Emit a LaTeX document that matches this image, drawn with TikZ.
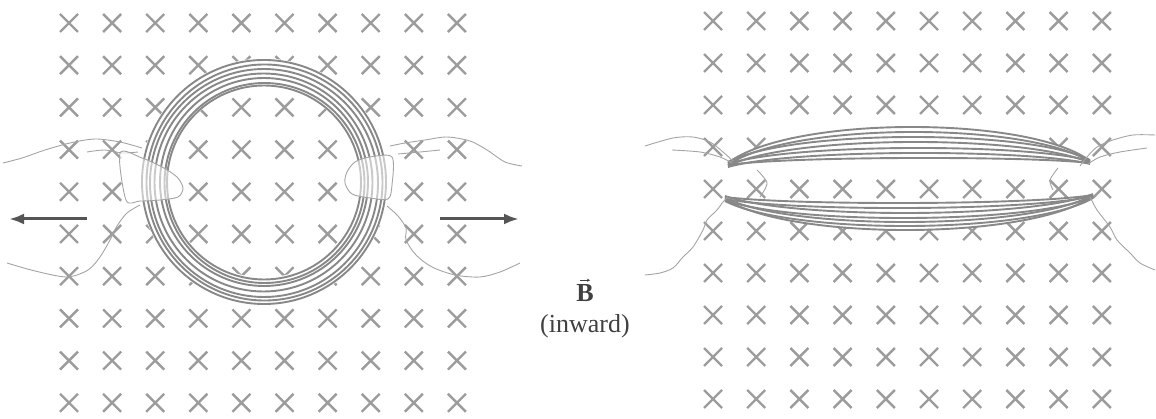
\documentclass[tikz,border=0pt]{standalone}
\usepackage{fontspec}
\setmainfont{Liberation Serif}
\usetikzlibrary{arrows.meta}
\definecolor{crossgray}{HTML}{9C9C9C}
\definecolor{wiregray}{HTML}{888888}
\definecolor{handgray}{HTML}{A4A4A4}
\definecolor{arrowgray}{HTML}{555555}
\definecolor{textgray}{HTML}{404040}
\begin{document}
\begin{tikzpicture}[x=1pt,y=-1pt,
  fieldx/.style={draw=crossgray, line width=2.4pt},
  wire/.style={draw=wiregray, line width=1.9pt},
  skin/.style={draw=handgray, line width=0.9pt},
  pull/.style={draw=arrowgray, line width=3pt, -{Latex[length=15pt,width=11pt]}},
  label/.style={text=textgray, inner sep=0pt}]
\useasboundingbox (0,0) rectangle (1156,419);

% magnetic field into the page: two grids of crosses
\foreach \i in {0,...,9} \foreach \j in {0,...,9} {
  \pgfmathsetmacro\cx{69+43.1*\i}
  \pgfmathsetmacro\cy{23+42.2*\j}
  \draw[fieldx] (\cx-9,\cy-9) -- (\cx+9,\cy+9) (\cx-9,\cy+9) -- (\cx+9,\cy-9);
}
\foreach \i in {0,...,9} \foreach \j in {0,...,9} {
  \pgfmathsetmacro\cx{713+43.2*\i}
  \pgfmathsetmacro\cy{21+42*\j}
  \draw[fieldx] (\cx-9,\cy-9) -- (\cx+9,\cy+9) (\cx-9,\cy+9) -- (\cx+9,\cy-9);
}

% circular coil
\fill[white, even odd rule] (264,182) circle (123.5pt) circle (95.5pt);
\foreach \r/\dx/\dy in {122/0/0, 118/0.5/0.5, 114/0/1, 109/-0.5/0.5, 104/0/0, 100/0.5/1, 97/0/0.5}
  \draw[wire] (264+\dx,182+\dy) circle (\r pt);

% hands on the circular coil (left)
\draw[skin] plot[smooth] coordinates {(3,163) (22,158) (45,150) (70,143) (95,139) (120,142) (142,148)};
\draw[skin] plot[smooth] coordinates {(87,152) (105,150) (122,153) (138,152)};
\filldraw[skin, fill=white, fill opacity=0.55] plot[smooth cycle] coordinates {(120,153) (142,158) (162,167) (177,177) (183,188) (178,197) (160,200) (140,201) (126,200)};
\draw[skin] plot[smooth] coordinates {(140,205) (127,213) (117,226) (110,240) (100,257) (88,270) (67,277) (35,271) (7,263)};
% hands on the circular coil (right)
\draw[skin] plot[smooth] coordinates {(522,166) (505,162) (487,150) (470,141) (447,137) (425,140) (405,143) (390,146)};
\draw[skin] plot[smooth] coordinates {(440,150) (420,152) (398,154)};
\filldraw[skin, fill=white, fill opacity=0.55] plot[smooth cycle] coordinates {(392,157) (370,157) (355,162) (347,172) (345,183) (352,194) (370,198) (388,199) (392,185)};
\draw[skin] plot[smooth] coordinates {(387,206) (398,216) (406,228) (406,240) (416,255) (432,267) (455,275) (480,277) (500,272) (520,263)};

% pulling arrows
\coordinate (lstart) at (87,219);
\coordinate (lend) at (9,219);
\coordinate (rstart) at (440,219);
\coordinate (rend) at (519,219);
\draw[pull] (lstart) -- (lend);
\draw[pull] (rstart) -- (rend);

% flattened coil: upper and lower bundles of windings
\fill[white] (728,164) .. controls (790,114) and (1030,114) .. (1090,162)
  .. controls (1030,158) and (790,158) .. cycle;
\fill[white] (725,197) .. controls (790,205) and (1030,205) .. (1093,195)
  .. controls (1030,242) and (790,242) .. cycle;
\foreach \m/\a/\b in {127/163/161, 132/165/162, 137/162/160, 142/166/163, 148/164/161, 153/167/164, 158/165/163} {
  \pgfmathsetmacro\yc{(4*\m-(\a+\b)/2)/3}
  \draw[wire] (728,\a) .. controls (790,\yc) and (1030,\yc) .. (1090,\b);
}
\foreach \m/\a/\b in {203/197/195, 208/199/196, 213/196/194, 218/200/197, 222/198/195, 226/201/198, 230/199/196} {
  \pgfmathsetmacro\yc{(4*\m-(\a+\b)/2)/3}
  \draw[wire] (725,\a) .. controls (790,\yc) and (1030,\yc) .. (1093,\b);
}

% hands on the flattened coil (left)
\draw[skin] plot[smooth] coordinates {(645,146) (673,138) (693,137) (710,142) (723,152) (733,161)};
\draw[skin] plot[smooth] coordinates {(672,150) (700,152) (720,157) (732,163)};
\draw[skin] plot[smooth] coordinates {(757,170) (767,183) (760,197)};
\draw[skin] plot[smooth] coordinates {(728,197) (723,202) (717,210) (707,220) (703,230) (693,247) (683,257) (673,268) (660,273) (645,275)};
% hands on the flattened coil (right)
\draw[skin] plot[smooth] coordinates {(1155,135) (1133,135) (1113,140) (1097,147) (1087,157) (1080,166)};
\draw[skin] plot[smooth] coordinates {(1147,148) (1120,152) (1100,157) (1088,164)};
\draw[skin] plot[smooth] coordinates {(1058,168) (1050,180) (1053,190)};
\draw[skin] plot[smooth] coordinates {(1090,197) (1097,210) (1110,227) (1117,240) (1130,253) (1140,263) (1155,270)};

% field label: bold B with a small vector arrow over it
\node[label, font=\fontsize{26}{30}\selectfont\bfseries] (bfield) at (585,293) {B};
\draw[textgray, line width=0.8pt, -{Stealth[length=3pt,width=3pt]}]
  ([xshift=-5pt,yshift=4pt]bfield.north) -- ([xshift=5pt,yshift=4pt]bfield.north);
\node[label, font=\fontsize{26}{30}\selectfont, anchor=north] (bdir) at (585,314) {(inward)};
\end{tikzpicture}
\end{document}
